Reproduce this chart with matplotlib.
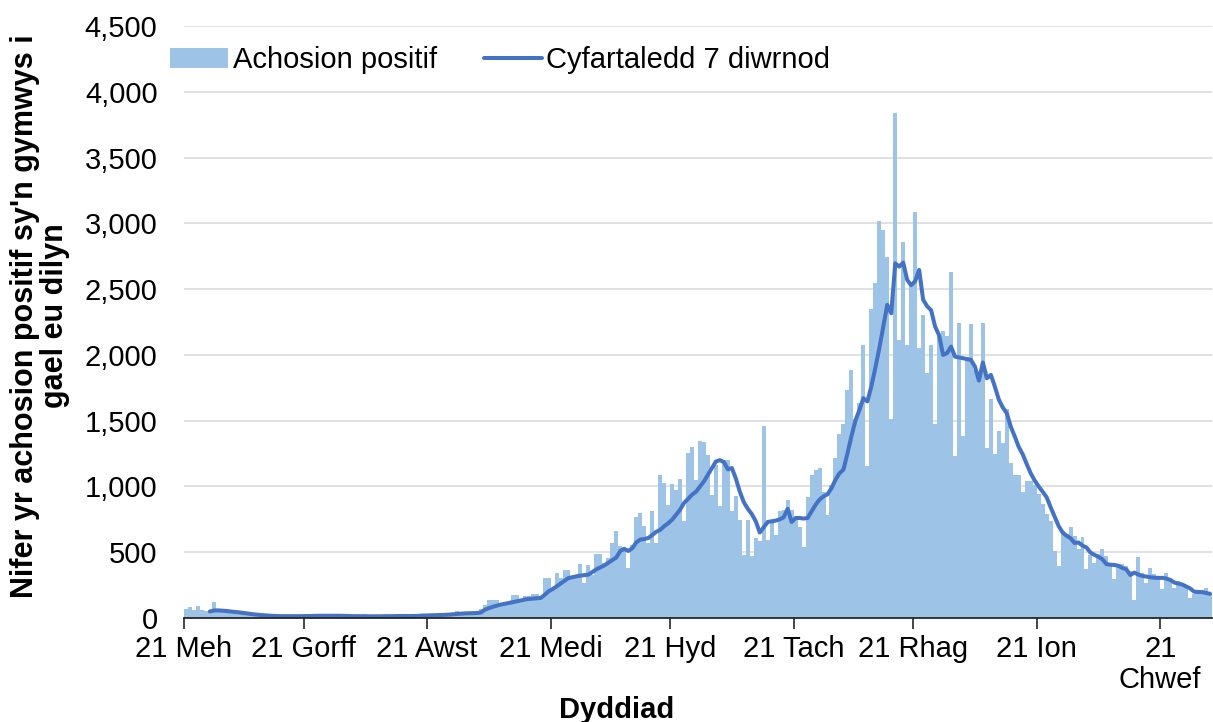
import matplotlib
matplotlib.use('Agg')
import matplotlib.pyplot as plt
import numpy as np
import pandas as pd

plt.rcParams['font.family'] = ['Liberation Sans', 'DejaVu Sans']

# ---------------- data ----------------
start_date = '2020-06-21'

positive_cases = [
    70, 84, 60, 91, 58, 55, 50, 122, 70, 58,
    55, 50, 48, 45, 40, 38, 35, 30, 25, 20,
    15, 12, 14, 12, 10, 15, 22, 12, 10, 14,
    12, 25, 15, 20, 12, 15, 20, 22, 18, 12,
    10, 12, 18, 18, 12, 10, 12, 10, 14, 12,
    18, 12, 14, 18, 12, 14, 12, 18, 15, 28,
    22, 25, 20, 28, 22, 25, 35, 40, 50, 38,
    38, 35, 40, 38, 70, 100, 140, 140, 135, 114,
    114, 114, 172, 172, 127, 165, 165, 182, 182, 152,
    304, 304, 215, 342, 304, 367, 367, 309, 309, 410,
    266, 400, 330, 486, 486, 420, 456, 570, 660, 545,
    537, 380, 557, 767, 798, 697, 570, 816, 570, 1089,
    1026, 861, 1018, 975, 1059, 735, 1254, 1297, 1051, 1348,
    1337, 1241, 937, 1165, 848, 1203, 1203, 810, 924, 747,
    481, 747, 468, 608, 583, 1456, 595, 735, 633, 810,
    820, 897, 820, 756, 692, 538, 923, 1090, 1128, 1141,
    961, 782, 1013, 1218, 1397, 1474, 1731, 1885, 1513, 1633,
    2076, 1154, 2347, 2550, 3020, 2950, 2742, 1513, 3836, 2114,
    2861, 2076, 2557, 3089, 2050, 2304, 1861, 2077, 1474, 2141,
    2179, 2141, 2628, 1231, 2244, 1385, 1987, 2231, 1885, 1833,
    2244, 1295, 1667, 1244, 1423, 1333, 1590, 1180, 1090, 1090,
    961, 1038, 1038, 1013, 944, 867, 791, 740, 510, 395,
    663, 638, 694, 625, 523, 612, 370, 480, 421, 485,
    523, 472, 408, 293, 395, 408, 395, 357, 140, 464,
    344, 268, 383, 332, 319, 217, 344, 306, 230, 281,
    268, 242, 153, 184, 191, 209, 230, 191,
]

avg_7day = [
    None, None, None, None, None, None, 50, 57, 58, 56,
    54, 50, 47, 44, 40, 36, 32, 28, 25, 22,
    20, 18, 16, 15, 14, 14, 14, 14, 14, 14,
    15, 15, 16, 17, 17, 17, 17, 17, 17, 17,
    16, 15, 14, 14, 14, 14, 13, 13, 13, 13,
    14, 14, 14, 15, 15, 15, 15, 15, 16, 18,
    19, 20, 21, 22, 23, 24, 26, 28, 31, 33,
    35, 36, 37, 38, 42, 63, 75, 85, 94, 102,
    108, 114, 120, 127, 133, 140, 145, 147, 150, 152,
    175, 203, 220, 240, 262, 283, 304, 310, 317, 322,
    326, 330, 350, 370, 385, 400, 420, 440, 460, 510,
    525, 510, 530, 574, 596, 600, 608, 630, 655, 670,
    697, 720, 747, 785, 823, 875, 905, 937, 960, 1000,
    1039, 1090, 1140, 1190, 1200, 1185, 1130, 1140, 1060, 960,
    880, 830, 790, 735, 650, 690, 730, 735, 740, 750,
    765, 830, 730, 760, 760, 756, 760, 810, 860, 900,
    925, 940, 987, 1050, 1100, 1128, 1250, 1380, 1500, 1580,
    1671, 1646, 1760, 1900, 2050, 2215, 2380, 2316, 2696, 2671,
    2701, 2570, 2530, 2560, 2646, 2420, 2370, 2340, 2216, 2150,
    2000, 2013, 2063, 1987, 1980, 1975, 1968, 1962, 1911, 1805,
    1942, 1822, 1848, 1759, 1660, 1600, 1556, 1454, 1380, 1300,
    1244, 1170, 1100, 1045, 1000, 960, 918, 842, 770, 700,
    650, 625, 607, 570, 574, 550, 536, 497, 480, 465,
    446, 410, 405, 403, 397, 380, 370, 327, 345, 330,
    320, 315, 310, 306, 305, 305, 300, 290, 270, 262,
    255, 240, 225, 200, 198, 197, 190, 184,
]

tick_dates = ['2020-06-21', '2020-07-21', '2020-08-21', '2020-09-21', '2020-10-21',
              '2020-11-21', '2020-12-21', '2021-01-21', '2021-02-21']
tick_labels = ['21 Meh', '21 Gorff', '21 Awst', '21 Medi', '21 Hyd',
               '21 Tach', '21 Rhag', '21 Ion', '21\nChwef']
y_ticks = [0, 500, 1000, 1500, 2000, 2500, 3000, 3500, 4000, 4500]

series_bar_label = 'Achosion positif'
series_line_label = 'Cyfartaledd 7 diwrnod'
x_title = 'Dyddiad'
y_title = "Nifer yr achosion positif sy'n gymwys i\ngael eu dilyn"

# ---------------- plot ----------------
dates = pd.date_range(start_date, periods=len(positive_cases), freq='D')
avg = np.array([np.nan if v is None else v for v in avg_7day], dtype=float)
half_day = pd.Timedelta(hours=12)

W, H = 1213, 722
fig = plt.figure(figsize=(W / 100, H / 100), dpi=100)
ax = fig.add_axes([184 / W, 1 - 618 / H, (1212 - 184) / W, (618 - 26) / H])

FS = 21

bars = ax.bar(dates, positive_cases, width=1.0, color='#9dc3e6', linewidth=0,
              label=series_bar_label, zorder=2)
line, = ax.plot(dates, avg, color='#4472c4', linewidth=2.9, label=series_line_label,
                zorder=3, solid_joinstyle='round', solid_capstyle='round')

ax.set_ylim(0, 4500)
ax.set_yticks(y_ticks)
ax.set_yticklabels([f'{v:,}' for v in y_ticks], fontsize=FS)
ax.yaxis.grid(True, color='#d9d9d9', linewidth=1.1, zorder=0)
ax.set_axisbelow(True)
ax.tick_params(axis='y', length=0, pad=19)

ax.set_xlim(dates[0] - half_day, dates[-1] + half_day)
ax.set_xticks(pd.to_datetime(tick_dates) - half_day)
ax.set_xticklabels(tick_labels, fontsize=FS, linespacing=1.15)
ax.tick_params(axis='x', length=8, width=1.2, color='#262626', pad=4,
               direction='out')

for s in ['top', 'right', 'left']:
    ax.spines[s].set_visible(False)
ax.spines['bottom'].set_color('#262626')
ax.spines['bottom'].set_linewidth(1.3)
ax.spines['bottom'].set_zorder(4)

fig.text(40 / W, 1 - 316 / H, y_title, rotation=90, ha='center', va='center',
         fontsize=22, fontweight='bold', multialignment='center', linespacing=0.98)
fig.text(617 / W, 1 - 710 / H, x_title, ha='center', va='center',
         fontsize=FS, fontweight='bold')

fig.legend([bars, line], [series_bar_label, series_line_label], loc='center left',
           bbox_to_anchor=(170 / W, 1 - 60 / H), ncol=2, frameon=False,
           fontsize=FS, handlelength=2.0, handletextpad=0.15,
           columnspacing=1.6, borderpad=0, borderaxespad=0)

fig.savefig('out.png', dpi=100)
